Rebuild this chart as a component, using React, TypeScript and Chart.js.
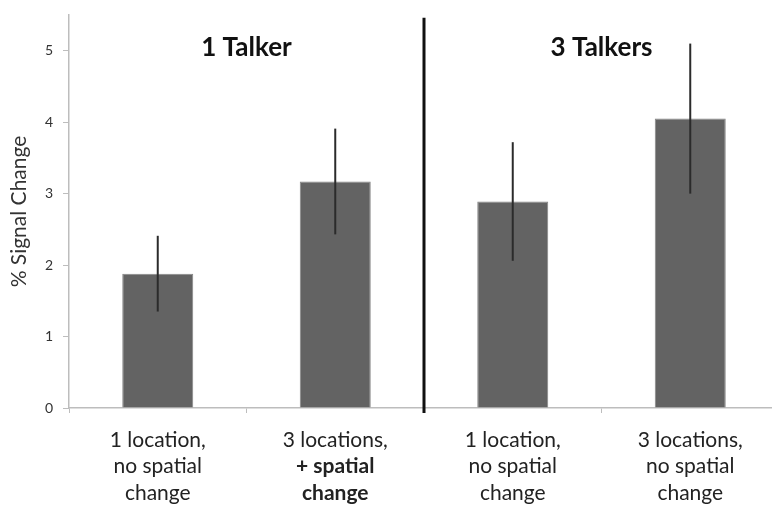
import React, { useEffect, useRef } from "react";
import { Chart, registerables } from "chart.js";
Chart.register(...registerables);

// ---- data ----
const labelLines: string[][] = [
  ["1 location,", "no spatial", "change"],
  ["3 locations,", "+ spatial", "change"],
  ["1 location,", "no spatial", "change"],
  ["3 locations,", "no spatial", "change"],
];
const boldLines: boolean[][] = [
  [false, false, false],
  [false, true, true],
  [false, false, false],
  [false, false, false],
];
const values = [1.88, 3.17, 2.89, 4.05];
const errors = [0.53, 0.74, 0.83, 1.05];
const groupTitles = ["1 Talker", "3 Talkers"];
const groupTitleValue = 5.04;
const dividerTopValue = 5.46;
const yMin = 0;
const yMax = 5.5;
const yStep = 1;
const yTitle = "% Signal Change";

const FONT = "Lato, 'Open Sans', sans-serif";

const overlayPlugin = {
  id: "overlay",
  afterDatasetsDraw(chart: any) {
    const { ctx, chartArea } = chart;
    const x = chart.scales.x;
    const y = chart.scales.y;
    ctx.save();
    // error bars
    ctx.strokeStyle = "#2b2b2b";
    ctx.lineWidth = 2;
    values.forEach((v, i) => {
      const px = x.getPixelForValue(i);
      ctx.beginPath();
      ctx.moveTo(px, y.getPixelForValue(v + errors[i]));
      ctx.lineTo(px, y.getPixelForValue(v - errors[i]));
      ctx.stroke();
    });
    // divider
    const dx = x.getPixelForValue(1.5);
    ctx.strokeStyle = "#111";
    ctx.lineWidth = 3;
    ctx.beginPath();
    ctx.moveTo(dx, y.getPixelForValue(dividerTopValue));
    ctx.lineTo(dx, chartArea.bottom + 5);
    ctx.stroke();
    // group titles
    ctx.fillStyle = "#111";
    ctx.font = `bold 26px ${FONT}`;
    ctx.textAlign = "center";
    ctx.textBaseline = "middle";
    groupTitles.forEach((t, g) => {
      const cx = x.getPixelForValue(g * 2 + 0.5);
      ctx.fillText(t, cx, y.getPixelForValue(groupTitleValue));
    });
    // x labels
    ctx.fillStyle = "#222";
    labelLines.forEach((lines, i) => {
      const cx = x.getPixelForValue(i);
      lines.forEach((line, j) => {
        ctx.font = `${boldLines[i][j] ? "bold " : ""}21px ${FONT}`;
        ctx.fillText(line, cx, chartArea.bottom + 32 + j * 26.5);
      });
    });
    ctx.restore();
  },
};

export default function App() {
  const ref = useRef<HTMLCanvasElement>(null);
  useEffect(() => {
    const chart = new Chart(ref.current!, {
      type: "bar",
      data: {
        labels: labelLines.map((l) => l.join(" ")),
        datasets: [
          {
            data: values,
            backgroundColor: "#636363",
            borderColor: "#858585",
            borderWidth: 1,
            barPercentage: 0.4,
            categoryPercentage: 1,
          },
        ],
      },
      options: {
        animation: false,
        responsive: false,
        layout: { padding: { top: 15, right: 11, left: 0, bottom: 0 } },
        plugins: { legend: { display: false }, tooltip: { enabled: false } },
        scales: {
          x: {
            ticks: { display: false },
            grid: { drawOnChartArea: false, tickLength: 5, color: "#bdbdbd" },
            border: { color: "#bdbdbd", width: 1.5 },
            afterFit: (s: any) => {
              s.height = 97;
              s.paddingLeft = 0;
              s.paddingRight = 0;
            },
          },
          y: {
            min: yMin,
            max: yMax,
            ticks: {
              stepSize: yStep,
              includeBounds: false,
              padding: 10,
              color: "#333",
              font: { family: FONT, size: 14 },
            },
            grid: { drawOnChartArea: false, tickLength: 6, color: "#bdbdbd" },
            border: { color: "#bdbdbd", width: 1.5 },
            title: {
              display: true,
              text: yTitle,
              color: "#333",
              font: { family: FONT, size: 21 },
              padding: { top: 7, bottom: 0 },
            },
            afterFit: (s: any) => {
              s.width = 69;
              s.paddingTop = 0;
              s.paddingBottom = 0;
            },
          },
        },
      },
      plugins: [overlayPlugin],
    });
    return () => chart.destroy();
  }, []);
  return (
    <div style={{ position: "fixed", left: 0, top: 0, width: 772, height: 505, overflow: "hidden", background: "#fff" }}>
      <canvas ref={ref} width={790} height={505} style={{ display: "block" }} />
    </div>
  );
}
